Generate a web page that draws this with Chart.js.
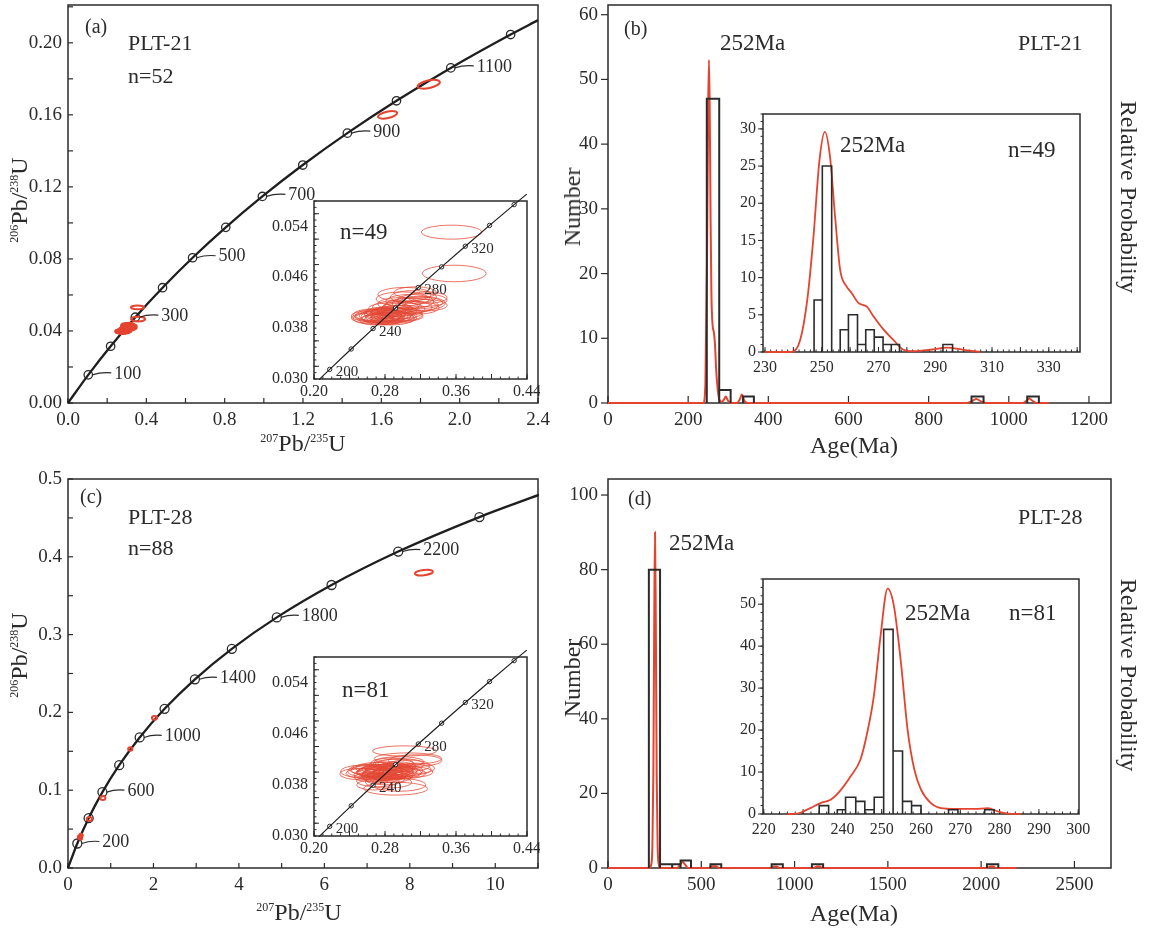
<!DOCTYPE html>
<html>
<head>
<meta charset="utf-8">
<title>PLT-21 / PLT-28 zircon U-Pb</title>
<script src="https://cdn.jsdelivr.net/npm/chart.js@4.4.1/dist/chart.umd.min.js"></script>
<style>
  html, body { margin: 0; padding: 0; background: #fff; }
  body { position: relative; width: 1151px; height: 928px; overflow: hidden;
         font-family: "Liberation Serif", "Times New Roman", serif; color: #2b2b2b; }
  canvas { position: absolute; }
  .t { position: absolute; white-space: nowrap; line-height: 1; }
  .r { position: absolute; white-space: nowrap; line-height: 1; transform: translate(-50%, -50%) rotate(-90deg); }
  .rr { position: absolute; white-space: nowrap; line-height: 1; transform: translate(-50%, -50%) rotate(90deg); }
  .c { position: absolute; white-space: nowrap; line-height: 1; transform: translate(-50%, -50%); }
  .s { font-size: 12px; position: relative; top: -9px; }
</style>
</head>
<body>
<canvas id="ca" width="560" height="440" style="left:0;top:0"></canvas>
<canvas id="cb" width="600" height="440" style="left:540px;top:0"></canvas>
<canvas id="cc" width="560" height="445" style="left:0;top:460px"></canvas>
<canvas id="cd" width="600" height="445" style="left:540px;top:460px"></canvas>
<canvas id="ia" width="290" height="210" style="left:250px;top:190px"></canvas>
<canvas id="ib" width="380" height="275" style="left:710px;top:100px"></canvas>
<canvas id="ic" width="290" height="210" style="left:250px;top:646px"></canvas>
<canvas id="id" width="380" height="275" style="left:710px;top:565px"></canvas>

<!-- (a) -->
<div class="t" style="left:85px;top:16px;font-size:20px">(a)</div>
<div class="t" style="left:128px;top:32px;font-size:22px">PLT-21</div>
<div class="t" style="left:128px;top:65px;font-size:22px">n=52</div>
<div class="t" style="left:340px;top:220px;font-size:23px">n=49</div>
<div class="r" style="left:19px;top:200px;font-size:24px"><span class="s">206</span>Pb/<span class="s">238</span>U</div>
<div class="c" style="left:303px;top:443px;font-size:24px"><span class="s">207</span>Pb/<span class="s">235</span>U</div>

<!-- (b) -->
<div class="t" style="left:624px;top:18px;font-size:20px">(b)</div>
<div class="t" style="left:720px;top:31px;font-size:23px">252Ma</div>
<div class="t" style="left:1018px;top:32px;font-size:22px">PLT-21</div>
<div class="t" style="left:840px;top:133px;font-size:23px">252Ma</div>
<div class="t" style="left:1008px;top:138px;font-size:23px">n=49</div>
<div class="r" style="left:572px;top:207px;font-size:24px">Number</div>
<div class="rr" style="left:1129px;top:197px;font-size:24px">Relative Probability</div>
<div class="c" style="left:854px;top:445px;font-size:24px">Age(Ma)</div>

<!-- (c) -->
<div class="t" style="left:80px;top:486px;font-size:20px">(c)</div>
<div class="t" style="left:128px;top:506px;font-size:22px">PLT-28</div>
<div class="t" style="left:128px;top:537px;font-size:22px">n=88</div>
<div class="t" style="left:342px;top:678px;font-size:23px">n=81</div>
<div class="r" style="left:19px;top:655px;font-size:24px"><span class="s">206</span>Pb/<span class="s">238</span>U</div>
<div class="c" style="left:299px;top:912px;font-size:24px"><span class="s">207</span>Pb/<span class="s">235</span>U</div>

<!-- (d) -->
<div class="t" style="left:628px;top:488px;font-size:20px">(d)</div>
<div class="t" style="left:1018px;top:506px;font-size:22px">PLT-28</div>
<div class="t" style="left:669px;top:531px;font-size:23px">252Ma</div>
<div class="t" style="left:905px;top:601px;font-size:23px">252Ma</div>
<div class="t" style="left:1009px;top:601px;font-size:23px">n=81</div>
<div class="r" style="left:572px;top:678px;font-size:24px">Number</div>
<div class="rr" style="left:1129px;top:675px;font-size:24px">Relative Probability</div>
<div class="c" style="left:854px;top:913px;font-size:24px">Age(Ma)</div>

<script>
const FONT = '"Liberation Serif", "Times New Roman", serif';
const INK = '#2b2b2b';
const RED = '#e4432f';

// ---------- concordia reference points (age Ma, 207Pb/235U, 206Pb/238U) ----------
const concAgeA = [0, 100, 200, 300, 400, 500, 600, 700, 800, 900, 1000, 1100, 1200, 1243];
const concXA = [0, 0.1035, 0.2177, 0.3438, 0.4828, 0.6362, 0.8056, 0.9925, 1.1988, 1.4264, 1.6774, 1.9546, 2.2602, 2.4];
const concYA = [0, 0.01563, 0.03151, 0.04764, 0.06402, 0.08065, 0.09754, 0.1147, 0.13213, 0.14983, 0.16781, 0.18607, 0.2046, 0.2126];
const markA = [100, 200, 300, 400, 500, 600, 700, 800, 900, 1000, 1100, 1200];
const labelA = [100, 300, 500, 700, 900, 1100];

const concAgeC = [0, 200, 400, 600, 800, 1000, 1200, 1400, 1600, 1800, 2000, 2200, 2400, 2525];
const concXC = [0, 0.2177, 0.4828, 0.8056, 1.1988, 1.6774, 2.2602, 2.9699, 3.8346, 4.8868, 6.1684, 7.7289, 9.6295, 11.02];
const concYC = [0, 0.03151, 0.06402, 0.09754, 0.13213, 0.16781, 0.2046, 0.24257, 0.28172, 0.32212, 0.36377, 0.40675, 0.45108, 0.4795];
const markC = [200, 400, 600, 800, 1000, 1200, 1400, 1600, 1800, 2000, 2200, 2400];
const labelC = [200, 600, 1000, 1400, 1800, 2200];

const concAgeIn = [190, 200, 220, 240, 260, 280, 300, 320, 340, 360, 370];
const concXIn = [0.2058, 0.2177, 0.2419, 0.2666, 0.2918, 0.3175, 0.3438, 0.3705, 0.3978, 0.4255, 0.4397];
const concYIn = [0.02991, 0.03151, 0.03472, 0.03793, 0.04116, 0.04439, 0.04764, 0.05089, 0.05416, 0.05743, 0.05908];
const markIn = [200, 220, 240, 260, 280, 300, 320, 340, 360];
const labelIn = [200, 240, 280, 320];

// ---------- error ellipses [207/235, 206/238, half-width, half-height, tilt deg] ----------
const ellA = [
  [0.262, 0.0396, 0.020, 0.0008], [0.268, 0.0398, 0.022, 0.0009], [0.272, 0.0395, 0.018, 0.0007],
  [0.275, 0.0399, 0.024, 0.0009], [0.278, 0.0397, 0.020, 0.0008], [0.280, 0.0401, 0.023, 0.0010],
  [0.283, 0.0396, 0.019, 0.0008], [0.285, 0.0399, 0.021, 0.0009], [0.287, 0.0402, 0.024, 0.0010],
  [0.290, 0.0398, 0.022, 0.0009], [0.265, 0.0401, 0.021, 0.0009], [0.270, 0.0393, 0.019, 0.0008],
  [0.276, 0.0403, 0.020, 0.0008], [0.282, 0.0393, 0.017, 0.0007], [0.288, 0.0395, 0.025, 0.0010],
  [0.293, 0.0400, 0.023, 0.0009], [0.296, 0.0396, 0.020, 0.0008], [0.260, 0.0399, 0.018, 0.0008],
  [0.273, 0.0400, 0.026, 0.0010], [0.279, 0.0394, 0.022, 0.0009], [0.284, 0.0404, 0.020, 0.0009],
  [0.291, 0.0403, 0.021, 0.0009], [0.298, 0.0401, 0.024, 0.0010], [0.267, 0.0395, 0.023, 0.0009],
  [0.281, 0.0398, 0.028, 0.0011], [0.300, 0.0404, 0.022, 0.0009], [0.286, 0.0406, 0.020, 0.0008],
  [0.303, 0.0399, 0.020, 0.0008], [0.277, 0.0405, 0.019, 0.0008], [0.294, 0.0407, 0.022, 0.0009],
  [0.300, 0.0410, 0.025, 0.0010], [0.305, 0.0413, 0.028, 0.0010], [0.310, 0.0416, 0.030, 0.0011],
  [0.315, 0.0412, 0.026, 0.0010], [0.318, 0.0419, 0.030, 0.0011], [0.296, 0.0418, 0.024, 0.0010],
  [0.308, 0.0422, 0.027, 0.0011], [0.322, 0.0424, 0.028, 0.0010], [0.300, 0.0426, 0.030, 0.0011],
  [0.312, 0.0429, 0.026, 0.0010], [0.302, 0.0433, 0.030, 0.0011], [0.320, 0.0420, 0.025, 0.0009],
  [0.292, 0.0413, 0.026, 0.0010], [0.326, 0.0416, 0.024, 0.0009], [0.286, 0.0410, 0.025, 0.0010],
  [0.314, 0.0436, 0.024, 0.0009], [0.328, 0.0428, 0.022, 0.0009],
  [0.355, 0.0531, 0.034, 0.0011], [0.358, 0.0466, 0.036, 0.0013]
];
const ellAOld = [[1.632, 0.1600, 0.050, 0.0018, -12], [1.842, 0.1770, 0.058, 0.0021, -12]];

const ellC = [
  [0.258, 0.0398, 0.022, 0.0008], [0.262, 0.0401, 0.024, 0.0009], [0.266, 0.0396, 0.021, 0.0008],
  [0.268, 0.0403, 0.026, 0.0009], [0.271, 0.0399, 0.022, 0.0008], [0.273, 0.0394, 0.020, 0.0008],
  [0.275, 0.0401, 0.025, 0.0009], [0.277, 0.0397, 0.023, 0.0008], [0.279, 0.0404, 0.021, 0.0008],
  [0.281, 0.0400, 0.024, 0.0009], [0.283, 0.0395, 0.022, 0.0008], [0.285, 0.0402, 0.027, 0.0010],
  [0.287, 0.0398, 0.021, 0.0008], [0.289, 0.0405, 0.023, 0.0009], [0.291, 0.0400, 0.025, 0.0009],
  [0.293, 0.0396, 0.020, 0.0008], [0.295, 0.0403, 0.022, 0.0008], [0.297, 0.0399, 0.024, 0.0009],
  [0.260, 0.0404, 0.020, 0.0008], [0.264, 0.0392, 0.019, 0.0007], [0.270, 0.0406, 0.023, 0.0009],
  [0.276, 0.0391, 0.021, 0.0008], [0.282, 0.0407, 0.026, 0.0009], [0.288, 0.0392, 0.022, 0.0008],
  [0.294, 0.0408, 0.021, 0.0008], [0.300, 0.0402, 0.023, 0.0009], [0.256, 0.0401, 0.026, 0.0010],
  [0.252, 0.0397, 0.023, 0.0009], [0.278, 0.0400, 0.030, 0.0011], [0.284, 0.0399, 0.028, 0.0010],
  [0.274, 0.0398, 0.018, 0.0007], [0.286, 0.0401, 0.019, 0.0007], [0.280, 0.0395, 0.020, 0.0008],
  [0.266, 0.0400, 0.018, 0.0007], [0.292, 0.0403, 0.019, 0.0007], [0.276, 0.0404, 0.022, 0.0008],
  [0.304, 0.0398, 0.022, 0.0008], [0.308, 0.0404, 0.024, 0.0009], [0.312, 0.0400, 0.022, 0.0008],
  [0.316, 0.0406, 0.020, 0.0008], [0.306, 0.0410, 0.025, 0.0009], [0.298, 0.0412, 0.026, 0.0009],
  [0.290, 0.0411, 0.024, 0.0009], [0.272, 0.0386, 0.024, 0.0009], [0.284, 0.0384, 0.026, 0.0009],
  [0.296, 0.0380, 0.030, 0.0010], [0.292, 0.0374, 0.036, 0.0010], [0.268, 0.0380, 0.020, 0.0008],
  [0.280, 0.0388, 0.022, 0.0008], [0.302, 0.0433, 0.036, 0.0008], [0.306, 0.0421, 0.038, 0.0009],
  [0.296, 0.0416, 0.028, 0.0008], [0.314, 0.0418, 0.030, 0.0009], [0.288, 0.0414, 0.024, 0.0008]
];
const ellCOld = [
  [0.50, 0.0629, 0.060, 0.0026], [0.816, 0.0899, 0.060, 0.0026], [1.458, 0.1529, 0.050, 0.0022],
  [2.024, 0.1931, 0.060, 0.0024], [8.33, 0.3797, 0.210, 0.0034, -6]
];

// ---------- histograms (bin low edge, bin high edge, count) ----------
const binLoB = [246.5, 277.5, 337, 907, 1046];
const binHiB = [277.5, 306, 364, 937, 1075];
const countB = [47, 2, 1, 1, 1];
const pdfAgeB = [0, 238, 243, 247, 250, 252, 254, 256, 258, 261, 264, 267, 270, 274, 278, 284, 290, 294, 299, 306, 322, 329, 334, 340, 348, 895, 905, 919, 932, 945, 1035, 1043, 1051, 1060, 1070, 1100];
const pdfValB = [0, 0, 3, 22, 46, 53, 44, 28, 17, 12, 11, 9, 5, 2, 0.5, 0.2, 0.6, 1.0, 0.4, 0, 0, 0.6, 1.3, 0.4, 0, 0, 0.2, 0.6, 0.2, 0, 0, 0.3, 0.7, 0.3, 0, 0];

const binLoIB = [247.3, 250.2, 256.5, 259.4, 262.6, 265.5, 268.5, 271.6, 274.5, 292.7];
const binHiIB = [250.2, 253.5, 259.4, 262.6, 265.5, 268.5, 271.6, 274.5, 277.4, 296.1];
const countIB = [7, 25, 3, 5, 1, 3, 2, 1, 1, 1];
const pdfAgeIB = [230, 239.4, 242.4, 244.9, 247.0, 249.2, 251.1, 252.9, 254.7, 256.5, 258.8, 260.6, 262.9, 265.9, 268.2, 271.8, 275.3, 278.8, 282.4, 288.2, 294.1, 300, 305.9];
const pdfValIB = [0, 0, 1.6, 7.0, 15.1, 25.8, 29.6, 26.3, 18.2, 11.0, 8.8, 7.9, 6.6, 6.1, 4.8, 3.0, 1.6, 0.3, 0.1, 0.3, 0.6, 0.3, 0];

const binLoD = [219, 279, 344, 389, 549, 877, 1093, 2031];
const binHiD = [279, 344, 389, 445, 607, 937, 1153, 2092];
const countD = [80, 1, 1, 2, 1, 1, 1, 1];
const pdfAgeD = [0, 222, 232, 238, 243, 248, 252, 256, 261, 266, 272, 280, 300, 370, 385, 400, 415, 430, 540, 560, 578, 595, 870, 890, 905, 920, 1100, 1120, 1135, 1150, 2030, 2050, 2065, 2080, 2190];
const pdfValD = [0, 0, 1, 6, 25, 68, 90, 68, 25, 6, 1, 0, 0, 0, 0.8, 1.6, 0.8, 0, 0, 0.5, 0.5, 0, 0, 0.4, 0.4, 0, 0, 0.4, 0.4, 0, 0, 0.4, 0.4, 0, 0];

const binLoID = [234.1, 238.7, 240.8, 243.4, 245.7, 248.1, 250.5, 252.9, 255.3, 257.6, 267.0, 276.2];
const binHiID = [236.5, 240.8, 243.4, 245.7, 248.1, 250.5, 252.9, 255.3, 257.6, 260.0, 269.4, 278.6];
const countID = [2, 1, 4, 3, 1, 4, 44, 15, 3, 2, 1, 1];
const pdfAgeID = [226, 227.2, 229.3, 231.8, 234.4, 237.0, 239.3, 242.1, 244.6, 246.3, 248.0, 249.7, 251.5, 253.1, 254.9, 256.6, 258.3, 260.0, 262.5, 265.1, 268.5, 273.6, 277.0, 279.6, 282.1, 285.5];
const pdfValID = [0, 0, 0.3, 1.4, 2.6, 3.4, 5.4, 9.0, 13, 19.3, 28.1, 42.4, 53.7, 49.6, 36, 20, 10.6, 5.8, 2.6, 1.4, 1.2, 1.2, 1.4, 0.6, 0.1, 0];

// ---------- tick labels ----------
const ticksXA = [0, 0.4, 0.8, 1.2, 1.6, 2.0, 2.4];
const ticksYA = [0, 0.04, 0.08, 0.12, 0.16, 0.20];
const ticksXC = [0, 2, 4, 6, 8, 10];
const ticksYC = [0, 0.1, 0.2, 0.3, 0.4, 0.5];
const ticksXIn = [0.20, 0.28, 0.36, 0.44];
const ticksYIn = [0.030, 0.038, 0.046, 0.054];
const ticksXB = [0, 200, 400, 600, 800, 1000, 1200];
const ticksYB = [0, 10, 20, 30, 40, 50, 60];
const ticksXIB = [230, 250, 270, 290, 310, 330];
const ticksYIB = [0, 5, 10, 15, 20, 25, 30];
const ticksXD = [0, 500, 1000, 1500, 2000, 2500];
const ticksYD = [0, 20, 40, 60, 80, 100];
const ticksXID = [220, 230, 240, 250, 260, 270, 280, 290, 300];
const ticksYID = [0, 10, 20, 30, 40, 50];

// ---------- helpers ----------
function axis(pos, min, max, ticks, fmt, size, fontSize, pad) {
  return {
    type: 'linear', position: pos, min, max,
    grid: { display: false, drawTicks: false },
    border: { display: false },
    afterBuildTicks: s => { s.ticks = ticks.map(v => ({ value: v })); },
    afterFit: s => {
      if (s.isHorizontal()) s.height = size; else s.width = size;
      s.paddingLeft = s.paddingRight = s.paddingTop = s.paddingBottom = 0;
    },
    ticks: { callback: fmt, autoSkip: false, maxRotation: 0, padding: pad,
             color: INK, font: { family: FONT, size: fontSize } }
  };
}

function pts(xs, ys) { return xs.map((v, i) => ({ x: v, y: ys[i] })); }

function curve(xs, ys, color, w) {
  return { data: pts(xs, ys), showLine: true, borderColor: color, borderWidth: w,
           pointRadius: 0, cubicInterpolationMode: 'monotone', clip: false };
}

function markers(ages, xs, ys, pick, r, w) {
  const data = pick.map(a => { const i = ages.indexOf(a); return { x: xs[i], y: ys[i] }; });
  return { data, showLine: false, pointRadius: r, pointBackgroundColor: '#fff',
           pointBorderColor: INK, pointBorderWidth: w };
}

function bars(lo, hi, cnt, w) {
  const data = [];
  lo.forEach((l, i) => {
    data.push({ x: l, y: 0 }, { x: l, y: cnt[i] }, { x: hi[i], y: cnt[i] }, { x: hi[i], y: 0 }, { x: hi[i], y: null });
  });
  return { data, showLine: true, spanGaps: false, borderColor: INK, borderWidth: w,
           pointRadius: 0, tension: 0, clip: false, borderJoinStyle: 'miter' };
}

function frame(o) {
  return {
    id: 'frame',
    beforeDatasetsDraw(chart) {
      const { ctx, chartArea: a, scales: { x, y } } = chart;
      ctx.save();
      ctx.strokeStyle = INK;
      ctx.lineWidth = o.lw;
      ctx.strokeRect(a.left, a.top, a.right - a.left, a.bottom - a.top);
      ctx.lineWidth = o.tw;
      const run = (sc, step, len, dir, horiz) => {
        if (!step) return;
        const k0 = Math.ceil(sc.min / step - 1e-6), k1 = Math.floor(sc.max / step + 1e-6);
        for (let k = k0; k <= k1; k++) {
          const p = sc.getPixelForValue(k * step);
          ctx.beginPath();
          if (horiz) {
            ctx.moveTo(p, a.bottom);
            ctx.lineTo(p, a.bottom + (dir === 'in' ? -len : len));
          } else {
            ctx.moveTo(a.left, p);
            ctx.lineTo(a.left + (dir === 'in' ? len : -len), p);
          }
          ctx.stroke();
        }
      };
      run(x, o.xMinor, o.minLen, o.xDir, true);
      run(x, o.xMajor, o.majLen, o.xDir, true);
      run(y, o.yMinor, o.minLen, o.yDir, false);
      run(y, o.yMajor, o.majLen, o.yDir, false);
      ctx.restore();
    }
  };
}

function ellipses(list, color, lw, over) {
  const draw = chart => {
    const { ctx, chartArea: a, scales: { x, y } } = chart;
    ctx.save();
    ctx.beginPath();
    ctx.rect(a.left, a.top, a.right - a.left, a.bottom - a.top);
    ctx.clip();
    ctx.strokeStyle = color;
    ctx.lineWidth = lw;
    list.forEach(([ex, ey, rx, ry, deg = 0]) => {
      const cx = x.getPixelForValue(ex), cy = y.getPixelForValue(ey);
      const w = Math.abs(x.getPixelForValue(ex + rx) - cx);
      const h = Math.abs(y.getPixelForValue(ey + ry) - cy);
      ctx.beginPath();
      ctx.ellipse(cx, cy, w, h, deg * Math.PI / 180, 0, Math.PI * 2);
      ctx.stroke();
    });
    ctx.restore();
  };
  return over ? { id: 'ell', afterDatasetsDraw: draw } : { id: 'ell', beforeDatasetsDraw: draw };
}

function concLabels(ages, xs, ys, show, o) {
  return {
    id: 'conclabels',
    afterDatasetsDraw(chart) {
      const { ctx, scales: { x, y } } = chart;
      ctx.save();
      ctx.font = o.size + 'px ' + FONT;
      ctx.fillStyle = INK;
      ctx.strokeStyle = INK;
      ctx.lineWidth = 1.2;
      ctx.textBaseline = 'middle';
      show.forEach(age => {
        const i = ages.indexOf(age);
        const px = x.getPixelForValue(xs[i]), py = y.getPixelForValue(ys[i]);
        if (o.leader) {
          ctx.beginPath();
          ctx.moveTo(px + o.r, py);
          ctx.quadraticCurveTo(px + o.dx * 0.5, py + o.dy - 2, px + o.dx - 3, py + o.dy - 1);
          ctx.stroke();
        }
        ctx.fillText(String(age), px + o.dx, py + o.dy);
      });
      ctx.restore();
    }
  };
}

function build(id, pad, xs, ys, datasets, plugins) {
  return new Chart(document.getElementById(id), {
    type: 'scatter',
    data: { datasets },
    options: {
      responsive: false, animation: false, events: [],
      layout: { padding: { left: 0, top: pad.top, right: pad.right, bottom: 0 }, autoPadding: false },
      plugins: { legend: { display: false }, tooltip: { enabled: false } },
      scales: { x: xs, y: ys }
    },
    plugins
  });
}

const f0 = v => v.toFixed(0), f1 = v => v.toFixed(1), f2 = v => v.toFixed(2), f3 = v => v.toFixed(3);

// ---------- (a) concordia PLT-21 ----------
build('ca', { top: 5, right: 22 },
  axis('bottom', 0, 2.4, ticksXA, f1, 37, 19, 6),
  axis('left', 0, 0.221, ticksYA, f2, 68, 19, 6),
  [curve(concXA, concYA, '#1e1e1e', 2.3), markers(concAgeA, concXA, concYA, markA, 4.2, 1.3)],
  [frame({ lw: 1.5, tw: 1.2, xMajor: 0.2, yMajor: 0.02, majLen: 5, xDir: 'in', yDir: 'in' }),
   ellipses(ellA, RED, 2, true), ellipses(ellAOld, RED, 2, true),
   concLabels(concAgeA, concXA, concYA, labelA, { size: 18, dx: 26, dy: -1, r: 4, leader: true })]);

// ---------- (a) inset ----------
build('ia', { top: 11, right: 13 },
  axis('bottom', 0.20, 0.44, ticksXIn, f2, 21, 16, 3),
  axis('left', 0.030, 0.058, ticksYIn, f3, 64, 16, 6),
  [curve(concXIn, concYIn, '#1e1e1e', 1.2), markers(concAgeIn, concXIn, concYIn, markIn, 2.2, 1)],
  [frame({ lw: 1.5, tw: 1, xMajor: 0.04, xMinor: 0.01, yMajor: 0.004, yMinor: 0.001, majLen: 5, minLen: 2.5, xDir: 'in', yDir: 'in' }),
   ellipses(ellA, 'rgba(228,72,52,0.85)', 0.9, false),
   concLabels(concAgeIn, concXIn, concYIn, labelIn, { size: 15, dx: 6, dy: 3, leader: false })]);

// ---------- (c) concordia PLT-28 ----------
build('cc', { top: 19, right: 22 },
  axis('bottom', 0, 11, ticksXC, f0, 37, 19, 6),
  axis('left', 0, 0.5, ticksYC, f1, 68, 19, 6),
  [curve(concXC, concYC, '#1e1e1e', 2.3), markers(concAgeC, concXC, concYC, markC, 4.5, 1.3)],
  [frame({ lw: 1.5, tw: 1.2, xMajor: 1, yMajor: 0.05, majLen: 5, xDir: 'in', yDir: 'in' }),
   ellipses(ellC, RED, 2, true), ellipses(ellCOld, RED, 2, true),
   concLabels(concAgeC, concXC, concYC, labelC, { size: 18, dx: 25, dy: -1, r: 4.5, leader: true })]);

// ---------- (c) inset ----------
build('ic', { top: 11, right: 13 },
  axis('bottom', 0.20, 0.44, ticksXIn, f2, 20, 16, 3),
  axis('left', 0.030, 0.058, ticksYIn, f3, 64, 16, 6),
  [curve(concXIn, concYIn, '#1e1e1e', 1.2), markers(concAgeIn, concXIn, concYIn, markIn, 2.2, 1)],
  [frame({ lw: 1.5, tw: 1, xMajor: 0.04, xMinor: 0.01, yMajor: 0.004, yMinor: 0.001, majLen: 5, minLen: 2.5, xDir: 'in', yDir: 'in' }),
   ellipses(ellC, 'rgba(228,72,52,0.85)', 0.9, false),
   concLabels(concAgeIn, concXIn, concYIn, labelIn, { size: 15, dx: 6, dy: 3, leader: false })]);

// ---------- (b) histogram PLT-21 ----------
build('cb', { top: 5, right: 29 },
  axis('bottom', 0, 1255, ticksXB, f0, 37, 19, 6),
  axis('left', 0, 61.5, ticksYB, f0, 68, 19, 10),
  [bars(binLoB, binHiB, countB, 2), curve(pdfAgeB, pdfValB, RED, 2)],
  [frame({ lw: 1.5, tw: 1.2, xMajor: 200, yMajor: 10, majLen: 7, xDir: 'in', yDir: 'out' })]);

build('ib', { top: 14, right: 10 },
  axis('bottom', 229.3, 341, ticksXIB, f0, 23, 16, 6),
  axis('left', 0, 32, ticksYIB, f0, 53, 16, 7),
  [bars(binLoIB, binHiIB, countIB, 1.6), curve(pdfAgeIB, pdfValIB, RED, 1.8)],
  [frame({ lw: 1.5, tw: 1, xMajor: 10, xMinor: 2, yMajor: 5, yMinor: 1, majLen: 5, minLen: 2.5, xDir: 'in', yDir: 'out' })]);

// ---------- (d) histogram PLT-28 ----------
build('cd', { top: 19, right: 29 },
  axis('bottom', 0, 2696, ticksXD, f0, 37, 19, 6),
  axis('left', 0, 104.3, ticksYD, f0, 68, 19, 10),
  [bars(binLoD, binHiD, countD, 2), curve(pdfAgeD, pdfValD, RED, 2)],
  [frame({ lw: 1.5, tw: 1.2, xMajor: 500, yMajor: 20, majLen: 7, xDir: 'in', yDir: 'out' })]);

build('id', { top: 14, right: 11 },
  axis('bottom', 219.8, 300.2, ticksXID, f0, 26, 16, 6),
  axis('left', 0, 56, ticksYID, f0, 53, 16, 7),
  [bars(binLoID, binHiID, countID, 1.6), curve(pdfAgeID, pdfValID, RED, 1.8)],
  [frame({ lw: 1.5, tw: 1, xMajor: 10, xMinor: 2, yMajor: 10, yMinor: 2, majLen: 5, minLen: 2.5, xDir: 'in', yDir: 'out' })]);
</script>
</body>
</html>
